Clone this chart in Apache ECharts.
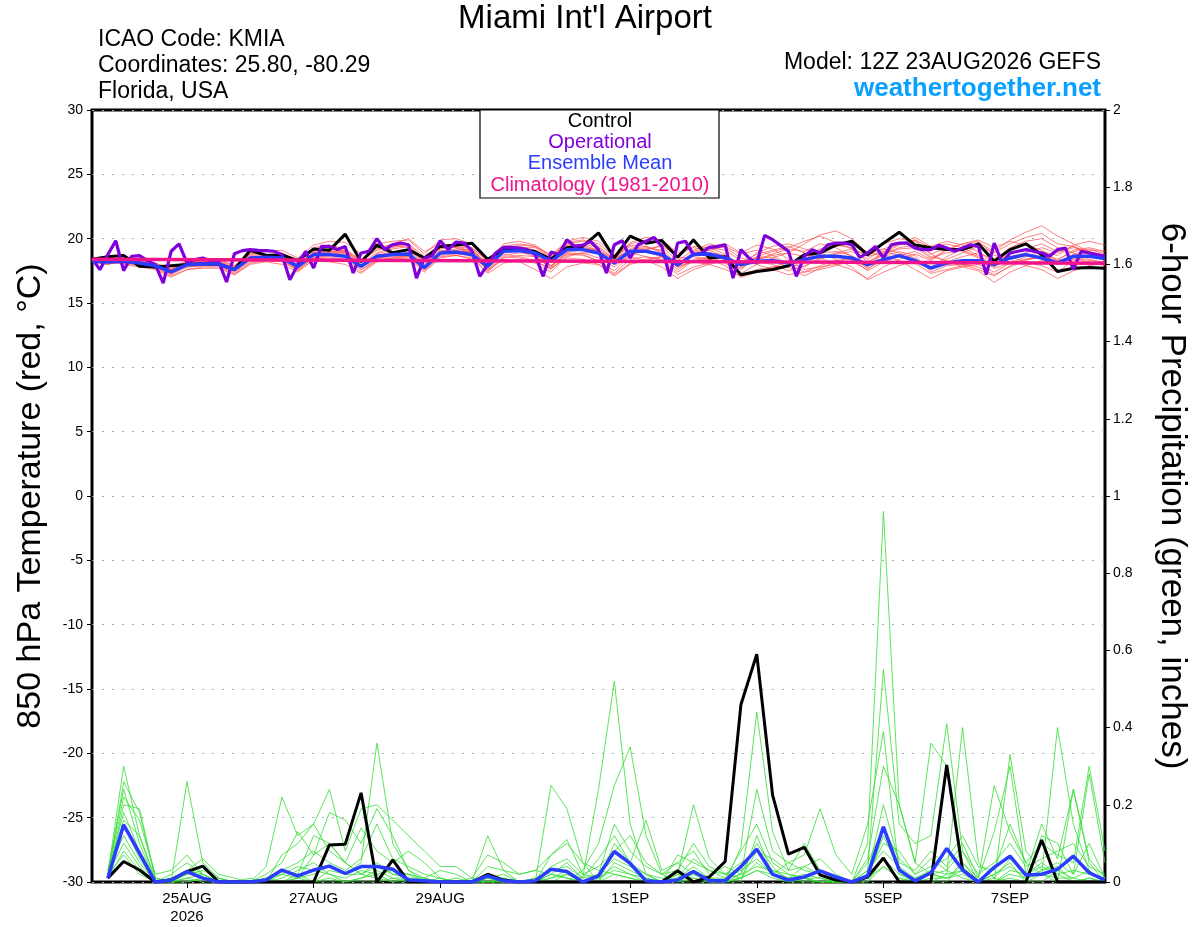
<!DOCTYPE html>
<html>
<head>
<meta charset="utf-8">
<script src="https://cdn.jsdelivr.net/npm/echarts@6/dist/echarts.min.js"></script>
<style>
html,body{margin:0;padding:0;background:#fff;}
#chart{width:1200px;height:927px;}
</style>
</head>
<body>
<div id="chart"></div>
<script>
// ---------- Texts ----------
const titleText = "Miami Int'l Airport";
const infoLines = ["ICAO Code: KMIA", "Coordinates: 25.80, -80.29", "Florida, USA"];
const modelText = "Model: 12Z 23AUG2026 GEFS";
const siteText = "weathertogether.net";
const legendItems = ["Control", "Operational", "Ensemble Mean", "Climatology (1981-2010)"];
const leftAxisName = "850 hPa Temperature (red, °C)";
const rightAxisName = "6-hour Precipitation (green, inches)";

// ---------- X axis (forecast hours from 12Z 23AUG2026) ----------
const xTickHours = [36, 84, 132, 204, 252, 300, 348];
const xTickLabels = ["25AUG\n2026", "27AUG", "29AUG", "1SEP", "3SEP", "5SEP", "7SEP"];

// ---------- 850 hPa temperature (°C) ----------
// control, ensemble mean, members: every 6 h from 0 h to 384 h
const controlTemp = [
18.4,18.6,18.7,17.85,17.8,17.9,18.0,18.05,
18.0,17.6,19.1,18.7,18.75,18.3,19.2,19.1,
20.35,18.2,19.5,18.9,19.15,18.5,19.4,19.5,
19.65,18.4,19.15,19.15,19.0,18.4,19.3,19.4,
20.45,18.5,20.2,19.65,19.85,18.55,19.9,18.5,
18.6,17.2,17.45,17.6,17.9,18.75,18.9,19.5,
19.8,18.75,19.65,20.5,19.5,19.3,19.15,19.15,
19.6,18.25,19.15,19.6,18.75,17.45,17.7,17.75,
17.7];
const meanTemp = [
18.24,18.19,18.24,18.11,17.90,17.41,17.98,18.05,
18.03,17.59,18.50,18.55,18.50,17.85,18.76,18.76,
18.63,17.85,18.63,18.76,18.81,17.75,18.89,18.96,
18.76,17.85,19.02,19.07,18.89,18.24,19.15,19.15,
18.89,18.11,19.02,19.02,18.76,17.98,18.76,18.81,
18.50,17.98,18.24,18.29,18.11,18.37,18.63,18.63,
18.50,17.98,18.37,18.68,18.29,17.72,18.11,18.29,
18.29,17.98,18.50,18.76,18.50,18.11,18.63,18.63,
18.45];
// operational: every 3 h from 0 h to 384 h
const operationalTemp = [
18.45,17.59,18.76,19.84,17.51,18.63,18.68,18.29,
17.98,16.55,19.02,19.59,18.11,18.37,18.50,18.29,
18.24,16.63,18.83,19.07,19.15,19.09,19.07,19.02,
18.76,16.81,17.98,19.02,17.72,19.40,19.40,19.15,
19.40,17.33,18.89,19.02,20.00,19.15,19.53,19.66,
19.53,16.94,18.50,18.68,19.84,19.15,19.74,19.66,
19.07,17.07,17.98,18.89,19.33,19.33,19.27,19.15,
18.76,17.07,18.96,18.76,19.92,19.40,19.48,19.79,
19.15,17.33,19.53,19.84,18.50,19.53,19.79,20.10,
19.40,17.07,19.66,19.79,18.76,18.89,19.33,19.38,
19.53,16.94,19.15,18.50,18.11,20.26,19.92,19.48,
19.02,17.07,18.63,19.15,18.89,19.53,19.66,19.66,
19.53,18.55,18.89,19.40,18.50,19.53,19.66,19.66,
19.27,19.15,19.15,19.48,19.27,19.02,19.27,19.53,
19.40,17.20,19.66,18.11,18.89,19.02,19.15,19.02,
18.89,18.63,19.15,19.27,17.59,19.02,18.89,18.76,
18.63];
// climatology: every 24 h
const climTemp = [18.40,18.38,18.36,18.34,18.32,18.30,18.28,18.26,18.24,18.22,18.20,18.18,18.16,18.14,18.12,18.10,18.08];

const tMember01 = [18.3,18.4,18.2,18.0,17.8,17.3,17.9,18.1, 18.2,17.7,18.7,18.8,18.6,17.9,19.0,19.2, 19.1,18.1,18.9,19.3,19.6,18.3,19.2,19.4, 19.0,17.9,18.8,18.6,18.3,17.6,18.7,18.9, 18.5,17.8,18.8,19.2,19.4,18.3,19.1,19.6, 19.3,18.5,18.2,18.0,17.5,17.9,18.4,18.8, 19.0,18.4,19.2,19.6,19.9,18.8,18.2,18.0, 17.6,17.1,17.9,18.4,18.6,18.3,19.1,19.3, 19.0];
const tMember02 = [18.2,18.0,18.3,18.1,17.7,17.2,17.8,17.9, 17.9,17.4,18.3,18.4,18.3,17.6,18.5,18.6, 18.4,17.6,18.4,18.7,18.9,17.9,19.3,19.5, 19.3,18.2,19.6,19.8,19.5,18.7,19.7,19.9, 19.6,18.6,19.4,19.1,18.7,17.8,18.2,18.0, 17.6,17.1,17.6,17.8,17.9,18.6,19.2,19.5, 19.3,18.6,19.0,18.7,18.1,17.3,17.6,17.9, 18.2,17.9,18.8,19.2,19.6,19.0,19.4,18.9, 18.4];
const tMember03 = [18.4,18.5,18.3,18.2,18.0,17.6,18.2,18.3, 18.1,17.5,18.4,18.3,18.2,17.5,18.3,18.2, 18.0,17.3,18.2,18.4,18.5,17.4,18.5,18.7, 18.4,17.4,18.6,18.5,18.2,17.7,18.9,19.2, 19.1,18.4,19.7,20.1,19.9,18.9,19.3,19.1, 18.6,17.8,18.4,18.7,18.9,19.6,20.3,20.6, 20.0,18.9,18.7,18.3,17.6,16.9,17.5,17.8, 18.0,17.4,18.1,18.6,19.0,18.7,19.5,19.8, 19.5];
const tMember04 = [18.3,18.2,18.4,18.3,18.1,17.6,18.1,18.2, 18.2,17.8,18.8,19.0,18.9,18.2,19.3,19.5, 19.2,18.3,19.1,19.4,19.6,18.6,19.5,19.3, 18.9,17.6,18.7,18.9,18.8,17.9,18.9,18.8, 18.2,17.3,18.4,18.6,18.4,17.4,18.3,18.5, 18.2,17.6,18.6,19.0,19.3,19.8,20.2,19.7, 19.2,18.2,18.8,19.2,19.3,18.5,18.9,19.1, 18.6,17.8,18.6,18.2,17.9,17.4,18.3,18.6, 18.7];
const tMember05 = [18.2,18.1,18.1,17.9,17.7,17.1,17.6,17.8, 17.8,17.2,18.1,18.3,18.4,17.7,18.6,18.9, 18.8,17.9,18.7,19.0,19.1,18.0,19.0,19.2, 19.1,18.0,19.3,19.4,19.1,18.4,19.5,19.4, 19.0,18.1,18.9,18.6,18.3,17.2,17.8,18.1, 18.4,17.9,18.9,19.4,19.6,19.2,18.9,18.4, 17.8,16.8,17.4,17.9,18.3,17.6,18.4,18.9, 19.4,18.9,19.6,20.1,20.4,19.6,19.4,18.8, 18.3];
const tMember06 = [18.3,18.3,18.2,18.0,17.9,17.5,18.0,18.0, 18.0,17.6,18.6,18.7,18.6,18.0,18.9,19.0, 18.9,17.9,18.5,18.6,18.6,17.5,18.6,18.7, 18.5,17.7,18.9,19.1,19.0,18.3,19.4,19.6, 19.3,18.4,19.2,19.4,19.0,18.0,18.9,19.3, 19.1,18.3,18.0,17.6,17.2,17.4,17.9,18.3, 18.4,17.5,18.2,18.6,18.4,17.7,18.6,19.2, 19.7,19.0,19.9,20.5,21.0,20.2,19.6,19.0, 18.7];
const tMember07 = [18.2,18.0,18.3,18.2,18.0,17.4,17.8,17.9, 17.9,17.3,18.2,18.3,18.3,17.6,18.5,18.7, 18.7,17.8,18.6,18.8,18.9,17.8,18.9,19.1, 18.9,17.5,18.4,18.2,17.6,16.9,17.8,18.1, 18.0,17.2,18.1,18.4,18.6,17.9,19.0,19.4, 19.6,18.9,19.5,19.2,18.4,17.6,17.8,18.0, 18.2,17.6,18.6,19.0,18.7,17.4,17.9,18.0, 17.8,17.2,17.8,18.3,18.7,18.4,19.0,19.2, 18.8];
const tMember08 = [18.4,18.3,18.5,18.3,18.1,17.7,18.3,18.4, 18.3,17.9,18.9,19.0,19.1,18.5,19.5,19.8, 19.7,18.8,19.6,19.8,19.9,18.8,19.9,20.0, 19.6,18.4,19.4,19.2,18.7,17.9,18.8,18.7, 18.3,17.5,18.7,19.1,19.5,18.6,19.4,19.3, 18.8,17.9,18.6,18.5,18.0,17.8,18.5,18.9, 19.2,18.7,19.6,20.0,19.8,18.8,19.3,19.0, 18.5,17.7,18.1,18.4,18.5,18.0,18.7,18.9, 18.6];
const tMember09 = [18.2,18.2,18.0,17.8,17.6,17.0,17.6,17.7, 17.7,17.2,18.0,18.2,18.0,17.4,18.4,18.5, 18.3,17.4,18.3,18.5,18.6,17.6,18.7,18.8, 18.7,17.9,19.2,19.5,19.4,18.6,19.6,19.5, 19.1,18.0,18.6,18.3,17.8,16.9,17.6,18.0, 18.3,17.7,18.4,18.8,19.2,19.0,19.6,19.3, 18.6,17.7,18.3,18.7,19.0,18.4,19.2,19.6, 19.8,18.7,18.4,17.9,17.6,16.9,17.5,17.9, 18.1];
const tMember10 = [18.3,18.4,18.4,18.2,18.0,17.5,18.1,18.3, 18.4,17.9,18.8,18.8,18.5,17.8,18.8,19.0, 19.0,18.2,19.2,19.6,20.0,19.0,19.6,19.3, 18.8,17.6,18.5,18.7,18.6,17.8,19.0,19.3, 19.1,18.3,19.6,19.9,19.6,18.5,18.6,18.4, 17.9,17.0,17.4,17.8,18.2,18.5,18.9,19.0, 18.7,17.9,18.9,19.5,19.9,19.3,19.6,19.3, 18.7,18.0,18.9,19.1,18.8,18.1,18.4,18.2, 17.9];
const tMember11 = [18.3,18.2,18.2,18.1,17.9,17.4,18.0,18.1, 18.1,17.7,18.6,18.6,18.4,17.7,18.7,18.8, 18.6,17.6,18.3,18.5,18.7,17.7,18.8,19.0, 19.0,18.1,19.1,19.0,18.6,17.7,18.5,18.4, 18.0,17.1,18.0,18.3,18.6,17.8,18.7,19.1, 19.4,18.8,19.1,18.7,18.0,17.4,17.6,17.9, 18.3,17.8,18.8,19.3,19.5,18.6,18.3,17.8, 17.5,16.6,17.4,17.9,18.3,18.1,18.8,19.1, 19.0];
const tMember12 = [18.4,18.3,18.1,18.0,17.8,17.4,18.0,18.2, 18.1,17.6,18.5,18.6,18.7,18.1,19.1,19.2, 19.0,18.0,18.7,18.9,19.1,18.2,19.3,19.4, 19.2,18.0,19.0,19.3,19.3,18.5,19.6,19.8, 19.4,18.4,19.1,19.0,18.6,17.6,18.4,18.6, 18.6,18.1,18.8,19.1,19.4,18.9,18.5,18.0, 17.6,16.9,17.8,18.4,18.8,18.3,19.1,19.6, 19.9,19.3,19.8,19.5,19.1,18.3,18.5,18.3, 18.2];
const tMember13 = [18.2,18.1,18.3,18.1,17.8,17.3,17.9,18.0, 18.0,17.5,18.4,18.5,18.4,17.8,18.9,19.1, 19.1,18.3,19.3,19.5,19.3,18.2,19.1,19.0, 18.6,17.3,18.1,18.3,18.1,17.4,18.6,18.9, 18.9,18.0,19.0,19.3,19.1,18.1,18.8,18.9, 18.7,17.9,18.5,18.3,17.8,17.1,17.7,18.2, 18.6,18.1,19.0,19.6,20.1,19.4,19.8,19.5, 19.0,18.1,18.6,18.9,19.3,18.9,19.3,19.0, 18.5];
const tMember14 = [18.3,18.4,18.3,18.2,18.0,17.6,18.1,18.2, 18.2,17.7,18.5,18.6,18.5,17.8,18.7,18.9, 18.9,17.9,18.8,19.2,19.4,18.4,19.4,19.6, 19.3,18.3,19.4,19.6,19.4,18.7,19.8,20.1, 19.8,18.8,19.5,19.4,18.9,17.8,18.3,18.4, 18.1,17.3,18.0,18.5,18.9,18.6,19.1,19.4, 19.6,18.8,19.2,18.9,18.5,17.6,18.2,18.6, 18.9,18.4,19.3,19.8,20.0,19.3,18.9,18.4, 18.1];
const tempMembers = [tMember01,tMember02,tMember03,tMember04,tMember05,tMember06,tMember07,tMember08,tMember09,tMember10,tMember11,tMember12,tMember13,tMember14];

// ---------- 6-hour precipitation (inches), every 6 h from 6 h to 384 h ----------
const controlPrecip = [
0.01,0.053,0.031,0,0.005,0.027,0.041,0,
0,0,0,0,0,0,0.096,0.098,
0.231,0,0.057,0,0,0,0,0,
0.02,0.005,0,0,0,0,0,0,
0,0,0,0,0.029,0,0.013,0.053,
0.46,0.59,0.225,0.072,0.09,0.018,0.005,0,
0.013,0.062,0,0,0,0.303,0.031,0,
0,0,0,0.109,0,0,0,0];
const meanPrecip = [
0.01,0.148,0.075,0,0.005,0.027,0.01,0,
0,0,0.005,0.031,0.016,0.031,0.041,0.022,
0.04,0.04,0.033,0.005,0.003,0,0,0,
0.016,0.003,0,0.003,0.033,0.027,0,0.016,
0.079,0.048,0.003,0,0.005,0.027,0.003,0.003,
0.04,0.085,0.02,0.005,0.013,0.029,0.013,0,
0.016,0.143,0.031,0.003,0.024,0.087,0.031,0,
0.038,0.067,0.018,0.02,0.033,0.067,0.024,0.005];
const pMember01 = [0.02,0.30,0.12,0.00,0.01,0.03,0.01,0.00, 0.00,0.00,0.01,0.02,0.01,0.00,0.03,0.02, 0.05,0.36,0.10,0.03,0.00,0.00,0.00,0.00, 0.00,0.01,0.00,0.00,0.02,0.05,0.01,0.24, 0.52,0.15,0.02,0.00,0.01,0.03,0.01,0.00, 0.02,0.10,0.04,0.00,0.01,0.00,0.00,0.00, 0.10,0.96,0.20,0.05,0.02,0.01,0.03,0.00, 0.02,0.05,0.00,0.00,0.03,0.01,0.00,0.00];
const pMember02 = [0.01,0.26,0.18,0.01,0.00,0.26,0.05,0.01, 0.00,0.00,0.00,0.00,0.02,0.00,0.01,0.00, 0.01,0.02,0.00,0.01,0.00,0.00,0.01,0.00, 0.12,0.03,0.00,0.00,0.25,0.19,0.05,0.03, 0.02,0.01,0.00,0.00,0.02,0.20,0.06,0.02, 0.01,0.03,0.01,0.00,0.00,0.00,0.00,0.00, 0.03,0.55,0.15,0.10,0.12,0.41,0.08,0.00, 0.00,0.01,0.00,0.02,0.40,0.15,0.03,0.00];
const pMember03 = [0.03,0.24,0.10,0.00,0.00,0.00,0.01,0.00, 0.00,0.00,0.04,0.22,0.12,0.15,0.08,0.05, 0.02,0.01,0.00,0.00,0.00,0.00,0.00,0.00, 0.00,0.00,0.00,0.00,0.00,0.00,0.03,0.10, 0.25,0.35,0.12,0.02,0.00,0.00,0.00,0.00, 0.09,0.44,0.13,0.03,0.10,0.03,0.00,0.00, 0.00,0.04,0.01,0.00,0.00,0.02,0.40,0.05, 0.01,0.00,0.00,0.12,0.10,0.02,0.28,0.05];
const pMember04 = [0.02,0.22,0.16,0.02,0.03,0.07,0.02,0.00, 0.00,0.00,0.00,0.07,0.10,0.15,0.24,0.08, 0.19,0.20,0.16,0.12,0.08,0.04,0.04,0.01, 0.07,0.05,0.02,0.03,0.07,0.10,0.05,0.00, 0.10,0.05,0.16,0.03,0.05,0.08,0.02,0.04, 0.02,0.24,0.08,0.05,0.07,0.19,0.07,0.02, 0.15,0.39,0.02,0.00,0.00,0.00,0.05,0.01, 0.25,0.13,0.05,0.02,0.00,0.24,0.06,0.01];
const pMember05 = [0.01,0.20,0.19,0.01,0.00,0.03,0.06,0.02, 0.01,0.00,0.02,0.05,0.13,0.07,0.18,0.16, 0.10,0.19,0.12,0.03,0.01,0.03,0.02,0.00, 0.01,0.00,0.00,0.00,0.07,0.11,0.02,0.01, 0.04,0.02,0.01,0.00,0.07,0.05,0.03,0.01, 0.08,0.15,0.05,0.02,0.01,0.00,0.00,0.00, 0.06,0.30,0.20,0.05,0.36,0.30,0.04,0.00, 0.00,0.33,0.08,0.03,0.04,0.00,0.01,0.00];
const pMember06 = [0.02,0.18,0.08,0.00,0.01,0.03,0.02,0.00, 0.00,0.01,0.00,0.03,0.02,0.12,0.10,0.05, 0.14,0.08,0.05,0.08,0.05,0.01,0.00,0.00, 0.04,0.03,0.02,0.03,0.02,0.01,0.00,0.02, 0.15,0.08,0.04,0.02,0.05,0.02,0.00,0.00, 0.01,0.08,0.03,0.01,0.04,0.06,0.02,0.00, 0.02,0.20,0.05,0.03,0.08,0.04,0.10,0.01, 0.13,0.30,0.02,0.15,0.06,0.24,0.05,0.00];
const pMember07 = [0.02,0.16,0.12,0.01,0.00,0.02,0.03,0.01, 0.00,0.00,0.00,0.00,0.01,0.07,0.10,0.05, 0.02,0.05,0.02,0.02,0.01,0.00,0.00,0.00, 0.02,0.00,0.00,0.01,0.00,0.02,0.01,0.06, 0.12,0.05,0.02,0.00,0.01,0.06,0.03,0.02, 0.03,0.06,0.02,0.05,0.03,0.02,0.00,0.00, 0.05,0.14,0.06,0.02,0.04,0.06,0.12,0.04, 0.03,0.15,0.05,0.10,0.07,0.05,0.30,0.08];
const pMember08 = [0.01,0.15,0.06,0.00,0.00,0.01,0.00,0.00, 0.00,0.00,0.00,0.00,0.00,0.00,0.00,0.00, 0.00,0.00,0.01,0.00,0.00,0.00,0.00,0.01, 0.00,0.00,0.00,0.00,0.02,0.01,0.00,0.00, 0.05,0.03,0.01,0.00,0.02,0.01,0.00,0.00, 0.00,0.12,0.02,0.01,0.00,0.00,0.00,0.00, 0.01,0.12,0.03,0.00,0.02,0.03,0.01,0.00, 0.00,0.03,0.02,0.05,0.02,0.00,0.01,0.00];
const pMember09 = [0.03,0.12,0.05,0.00,0.02,0.05,0.02,0.00, 0.00,0.00,0.01,0.03,0.05,0.08,0.05,0.03, 0.06,0.15,0.06,0.04,0.02,0.01,0.00,0.00, 0.01,0.02,0.00,0.00,0.04,0.06,0.02,0.04, 0.08,0.12,0.05,0.02,0.03,0.10,0.04,0.02, 0.05,0.08,0.06,0.03,0.04,0.02,0.01,0.00, 0.02,0.10,0.08,0.02,0.06,0.03,0.08,0.02, 0.05,0.10,0.04,0.06,0.08,0.10,0.04,0.02];
const pMember10 = [0.02,0.10,0.04,0.00,0.00,0.01,0.02,0.00, 0.00,0.00,0.00,0.01,0.03,0.05,0.02,0.00, 0.01,0.03,0.01,0.01,0.00,0.00,0.00,0.00, 0.00,0.00,0.00,0.00,0.01,0.02,0.00,0.01, 0.03,0.02,0.00,0.00,0.01,0.04,0.01,0.00, 0.01,0.05,0.02,0.01,0.02,0.01,0.00,0.00, 0.00,0.06,0.02,0.01,0.02,0.01,0.05,0.00, 0.02,0.04,0.01,0.03,0.05,0.02,0.10,0.01];
const pMember11 = [0.01,0.08,0.03,0.00,0.01,0.02,0.04,0.01, 0.00,0.00,0.00,0.02,0.04,0.03,0.02,0.01, 0.03,0.02,0.03,0.02,0.00,0.01,0.00,0.00, 0.00,0.01,0.00,0.01,0.03,0.04,0.01,0.02, 0.06,0.04,0.02,0.01,0.00,0.02,0.01,0.01, 0.02,0.04,0.03,0.02,0.01,0.01,0.00,0.00, 0.03,0.08,0.04,0.01,0.03,0.02,0.03,0.00, 0.01,0.06,0.02,0.04,0.02,0.03,0.02,0.01];
const pMember12 = [0.02,0.07,0.02,0.00,0.00,0.00,0.01,0.00, 0.00,0.00,0.01,0.00,0.01,0.02,0.04,0.02, 0.02,0.04,0.02,0.01,0.01,0.00,0.00,0.00, 0.01,0.00,0.00,0.00,0.01,0.03,0.00,0.00, 0.02,0.01,0.00,0.00,0.00,0.01,0.00,0.00, 0.01,0.03,0.02,0.00,0.01,0.00,0.00,0.00, 0.01,0.04,0.01,0.00,0.01,0.01,0.02,0.00, 0.00,0.02,0.01,0.02,0.01,0.01,0.03,0.00];
const precipMembers = [pMember01,pMember02,pMember03,pMember04,pMember05,pMember06,pMember07,pMember08,pMember09,pMember10,pMember11,pMember12];

// ---------- build ----------
const hours6 = controlTemp.map((_, i) => i * 6);
const hours3 = operationalTemp.map((_, i) => i * 3);
const hoursClim = climTemp.map((_, i) => i * 24);
const hoursPrecip = controlPrecip.map((_, i) => (i + 1) * 6);
const pair = (hrs, vals) => vals.map((v, i) => [hrs[i], v]);

const C = {
  control: '#000000', oper: '#8000dc', mean: '#2a3cff', clim: '#f0148c',
  red: '#ff4646', green: '#33dd33', site: '#0aa0ff'
};
const FONT = 'Liberation Sans, Arial, Helvetica, sans-serif';

const series = [];
tempMembers.forEach((m, k) => series.push({
  name: 'tm' + k, type: 'line', yAxisIndex: 0, data: pair(hours6, m), showSymbol: false, silent: true,
  lineStyle: { color: C.red, width: 0.8, opacity: 0.85 }, z: 2
}));
precipMembers.forEach((m, k) => series.push({
  name: 'pm' + k, type: 'line', yAxisIndex: 1, data: pair(hoursPrecip, m), showSymbol: false, silent: true,
  lineStyle: { color: C.green, width: 0.8 }, z: 2
}));
series.push({ name: 'Control', type: 'line', yAxisIndex: 0, data: pair(hours6, controlTemp), showSymbol: false, lineStyle: { color: C.control, width: 3 }, z: 4 });
series.push({ name: 'ControlP', type: 'line', yAxisIndex: 1, data: pair(hoursPrecip, controlPrecip), showSymbol: false, lineStyle: { color: C.control, width: 3 }, z: 4 });
series.push({ name: 'Operational', type: 'line', yAxisIndex: 0, data: pair(hours3, operationalTemp), showSymbol: false, lineStyle: { color: C.oper, width: 3.2 }, z: 5 });
series.push({ name: 'Ensemble Mean', type: 'line', yAxisIndex: 0, data: pair(hours6, meanTemp), showSymbol: false, lineStyle: { color: C.mean, width: 3.5 }, z: 6 });
series.push({ name: 'MeanP', type: 'line', yAxisIndex: 1, data: pair(hoursPrecip, meanPrecip), showSymbol: false, lineStyle: { color: C.mean, width: 3.5 }, z: 6 });
series.push({ name: 'Climatology', type: 'line', yAxisIndex: 0, data: pair(hoursClim, climTemp), showSymbol: false, lineStyle: { color: C.clim, width: 3.5 }, z: 7 });

const graphic = [
  { type: 'text', x: 585, y: 19, style: { text: titleText, font: '33px ' + FONT, fill: '#000', align: 'center', verticalAlign: 'middle' }, z: 100 },
  { type: 'text', x: 98, y: 40, style: { text: infoLines[0], font: '23px ' + FONT, fill: '#000', verticalAlign: 'middle' } },
  { type: 'text', x: 98, y: 66, style: { text: infoLines[1], font: '23px ' + FONT, fill: '#000', verticalAlign: 'middle' } },
  { type: 'text', x: 98, y: 92, style: { text: infoLines[2], font: '23px ' + FONT, fill: '#000', verticalAlign: 'middle' } },
  { type: 'text', x: 1101, y: 63, style: { text: modelText, font: '23px ' + FONT, fill: '#000', align: 'right', verticalAlign: 'middle' } },
  { type: 'text', x: 1101, y: 89, style: { text: siteText, font: 'bold 26px ' + FONT, fill: C.site, align: 'right', verticalAlign: 'middle' } },
  { type: 'rect', shape: { x: 480, y: 110, width: 239, height: 88 }, style: { fill: '#fff', stroke: '#000', lineWidth: 1.2 }, z: 100 },
  { type: 'text', x: 600, y: 121, z: 101, style: { text: legendItems[0], font: '20px ' + FONT, fill: C.control, align: 'center', verticalAlign: 'middle' } },
  { type: 'text', x: 600, y: 142, z: 101, style: { text: legendItems[1], font: '20px ' + FONT, fill: C.oper, align: 'center', verticalAlign: 'middle' } },
  { type: 'text', x: 600, y: 163, z: 101, style: { text: legendItems[2], font: '20px ' + FONT, fill: C.mean, align: 'center', verticalAlign: 'middle' } },
  { type: 'text', x: 600, y: 185, z: 101, style: { text: legendItems[3], font: '20px ' + FONT, fill: C.clim, align: 'center', verticalAlign: 'middle' } }
];

const chart = echarts.init(document.getElementById('chart'), null, { renderer: 'canvas' });
chart.setOption({
  backgroundColor: '#fff',
  animation: false,
  textStyle: { fontFamily: FONT },
  grid: { left: 92, right: 95, top: 110, bottom: 45, show: true, borderColor: '#000', borderWidth: 3, backgroundColor: 'transparent' },
  xAxis: {
    type: 'value', min: 0, max: 384, position: 'bottom',
    axisLine: { show: false, onZero: false },
    splitLine: { show: false },
    axisTick: { show: true, customValues: xTickHours, length: 6, lineStyle: { color: '#000', width: 1 } },
    axisLabel: {
      customValues: xTickHours, color: '#000', fontSize: 15, margin: 8, lineHeight: 18,
      formatter: v => { const i = xTickHours.indexOf(v); return i >= 0 ? xTickLabels[i] : ''; }
    }
  },
  yAxis: [
    {
      type: 'value', min: -30, max: 30, interval: 5, position: 'left',
      name: leftAxisName, nameLocation: 'middle', nameGap: 44,
      nameTextStyle: { fontSize: 34, color: '#000' },
      axisLine: { show: false },
      axisTick: { show: true, length: 5, lineStyle: { color: '#000' } },
      axisLabel: { color: '#000', fontSize: 14, margin: 9 },
      splitLine: { show: true, lineStyle: { color: '#aaa', type: [2, 8], width: 1 } }
    },
    {
      type: 'value', min: 0, max: 2, interval: 0.2, position: 'right',
      name: rightAxisName, nameLocation: 'middle', nameGap: 49, nameRotate: -90,
      nameTextStyle: { fontSize: 35, color: '#000' },
      axisLine: { show: false },
      axisTick: { show: true, length: 5, lineStyle: { color: '#000' } },
      axisLabel: { color: '#000', fontSize: 14, margin: 8 },
      splitLine: { show: false }
    }
  ],
  graphic: graphic,
  series: series
});
</script>
</body>
</html>
